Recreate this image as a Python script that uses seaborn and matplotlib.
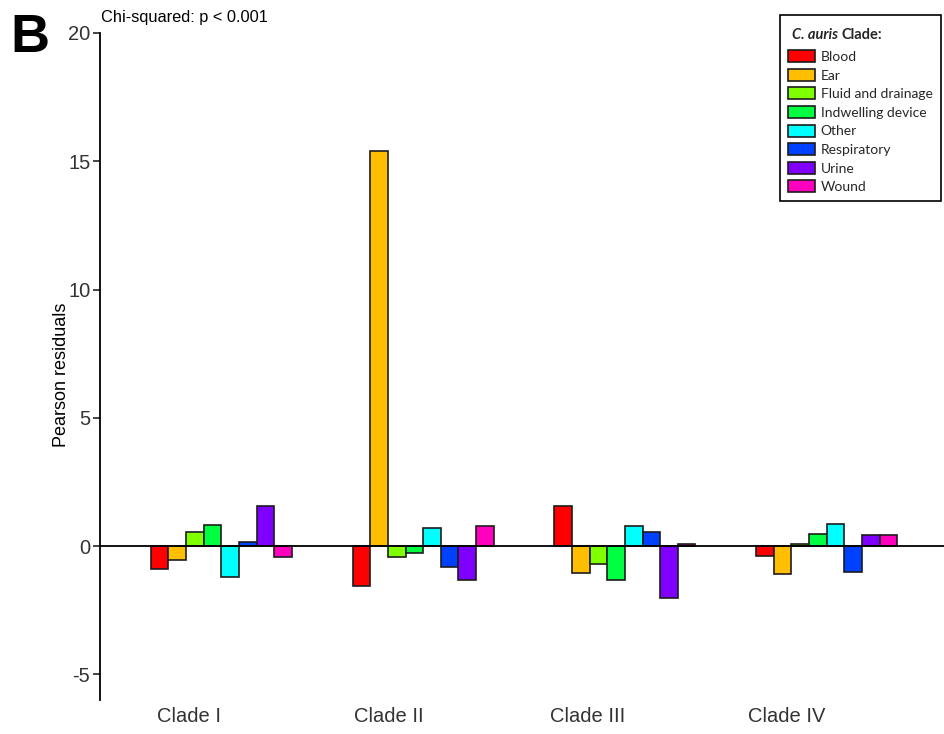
import matplotlib
matplotlib.use("Agg")
import matplotlib.pyplot as plt
import seaborn as sns
import pandas as pd
import numpy as np
from matplotlib.patches import Patch

# Pearson residuals of specimen site by C. auris clade
clades = ["Clade I", "Clade II", "Clade III", "Clade IV"]
sites = ["Blood", "Ear", "Fluid and drainage", "Indwelling device",
         "Other", "Respiratory", "Urine", "Wound"]
site_colors = ["#FF0000", "#FFBF00", "#80FF00", "#00FF40",
               "#00FFFF", "#0040FF", "#8000FF", "#FF00BF"]

clade_1 = [-0.91, -0.54, 0.55, 0.82, -1.22, 0.16, 1.58, -0.41]
clade_2 = [-1.57, 15.41, -0.41, -0.28, 0.70, -0.82, -1.31, 0.80]
clade_3 = [1.58, -1.05, -0.69, -1.31, 0.80, 0.56, -2.04, 0.09]
clade_4 = [-0.37, -1.09, 0.09, 0.48, 0.87, -1.00, 0.42, 0.43]
y_ticks = [-5, 0, 5, 10, 15, 20]

rows = []
for clade, vals in zip(clades, [clade_1, clade_2, clade_3, clade_4]):
    for site, v in zip(sites, vals):
        rows.append({"clade": clade, "site": site, "residual": v})
df = pd.DataFrame(rows)

sns.set_style("white")
plt.rcParams["font.family"] = ["Liberation Sans", "DejaVu Sans"]

W, H = 944, 734
fig = plt.figure(figsize=(W / 100, H / 100), dpi=100)
ax = fig.add_axes([100 / W, (H - 700) / H, 1 - 100 / W, (700 - 33) / H])

sns.barplot(data=df, x="clade", y="residual", hue="site",
            order=clades, hue_order=sites, palette=site_colors,
            width=0.7, edgecolor="#1c1c1c", linewidth=1.2,
            saturation=1, ax=ax, legend=False)

ax.axhline(0, color="black", lw=1.3, zorder=4)
ax.set_xlim(-0.602, 3.582)
ax.set_ylim(-6, 20)
ax.set_yticks(y_ticks)
ax.set_yticklabels([str(t) for t in y_ticks])
ax.set_xticks(np.arange(len(clades)) * 0.988 - 0.16)
ax.set_xticklabels(clades)

for s in ["top", "right", "bottom"]:
    ax.spines[s].set_visible(False)
ax.spines["left"].set_linewidth(1.3)
ax.spines["left"].set_color("black")

ax.tick_params(axis="x", length=0, pad=5, labelsize=14.5, labelcolor="#333333")
ax.tick_params(axis="y", length=5, width=1.2, direction="out", pad=2,
               labelsize=14.5, labelcolor="#333333", left=True)
ax.set_xlabel("")
ax.set_ylabel("Pearson residuals", fontsize=13, color="black")
ax.yaxis.set_label_coords(-0.0355, 0.487)

fig.text(101 / W, 1 - 22 / H, "Chi-squared: p < 0.001", fontsize=11.8,
         va="baseline", ha="left", color="black")
fig.text(10 / W, 1 - 52 / H, "B", fontsize=39, fontweight="bold",
         va="baseline", ha="left", color="black")

handles = [Patch(facecolor=c, edgecolor="#1c1c1c", linewidth=1.2, label=s)
           for c, s in zip(site_colors, sites)]
leg = ax.legend(handles=handles, loc="upper right",
                bbox_to_anchor=(941 / W, 1 - 15 / H),
                bbox_transform=fig.transFigure, borderaxespad=0,
                title=" ", title_fontsize=16,
                prop={"family": "Lato", "size": 10},
                frameon=True, fancybox=False, edgecolor="black",
                framealpha=1, handlelength=1.95, handleheight=0.95,
                handletextpad=0.42, labelspacing=0.42, borderpad=0.6)
leg.get_frame().set_linewidth(1.2)

# Legend heading with an italic genus name
fig.canvas.draw()
bb = leg.get_window_extent()
x0 = bb.x0 + 12
y0 = bb.y1 - 24
t1 = fig.text(x0, y0, "C. auris", transform=None, fontsize=10.5,
              family="Lato", fontweight="bold", fontstyle="italic",
              va="baseline", ha="left")
fig.canvas.draw()
e1 = t1.get_window_extent()
fig.text(e1.x1 + 3.5, y0, "Clade:", transform=None, fontsize=10.5,
         family="Lato", fontweight="bold", va="baseline", ha="left")

fig.savefig("out.png", dpi=100)
